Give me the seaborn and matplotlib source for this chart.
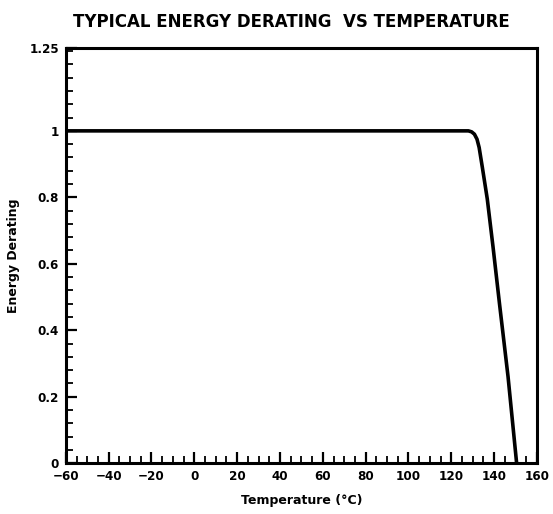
import matplotlib
matplotlib.use("Agg")
import matplotlib.pyplot as plt
from matplotlib.ticker import MultipleLocator, AutoMinorLocator, FixedLocator
import seaborn as sns
import pandas as pd

# Derating curve: full energy rating up to ~128 °C, then a steep roll-off
temperature = [-60, 128, 129.5, 130.8, 132, 133, 134.5, 136.8, 139.5, 142.5, 146.5, 150.5]
derating = [1.0, 1.0, 0.997, 0.99, 0.975, 0.95, 0.89, 0.795, 0.65, 0.48, 0.26, 0.0]

x_ticks = [-60, -40, -20, 0, 20, 40, 60, 80, 100, 120, 140, 160]
y_ticks = [0, 0.2, 0.4, 0.6, 0.8, 1, 1.25]
y_tick_labels = ["0", "0.2", "0.4", "0.6", "0.8", "1", "1.25"]

sns.set_style("ticks")
plt.rcParams["font.family"] = ["DejaVu Sans"]
plt.rcParams["font.weight"] = "bold"
plt.rcParams["text.color"] = "black"
plt.rcParams["axes.labelcolor"] = "black"

df = pd.DataFrame({"Temperature": temperature, "Derating": derating})

fig = plt.figure(figsize=(5.53, 5.14), dpi=100)
ax = fig.add_axes([0.119, 0.099, 0.852, 0.808])

sns.lineplot(data=df, x="Temperature", y="Derating", ax=ax,
             color="black", linewidth=2.6, sort=False)

ax.set_xlim(-60, 160)
ax.set_ylim(0, 1.25)
ax.xaxis.set_major_locator(FixedLocator(x_ticks))
ax.yaxis.set_major_locator(FixedLocator(y_ticks))
ax.set_yticklabels(y_tick_labels)
ax.xaxis.set_minor_locator(AutoMinorLocator(4))
ax.yaxis.set_minor_locator(MultipleLocator(0.04))

for side in ["left", "right", "top", "bottom"]:
    ax.spines[side].set_linewidth(2.2)
    ax.spines[side].set_color("black")

ax.tick_params(which="major", direction="in", length=8, width=1.6,
               labelsize=9.5, colors="black", pad=5)
ax.tick_params(which="minor", direction="in", length=5, width=1.3,
               colors="black")
ax.tick_params(top=False, right=False)
for lbl in ax.get_xticklabels() + ax.get_yticklabels():
    lbl.set_fontweight("bold")
    lbl.set_fontstretch("condensed")

ax.set_xlabel("Temperature (°C)", fontsize=9, fontweight="bold", labelpad=8)
ax.set_ylabel("Energy Derating", fontsize=9, fontweight="bold", labelpad=7)
fig.suptitle("TYPICAL ENERGY DERATING  VS TEMPERATURE", x=0.527, y=0.975,
             fontsize=12, fontweight="bold", color="black")

fig.savefig("out.png", dpi=100, facecolor="white")
